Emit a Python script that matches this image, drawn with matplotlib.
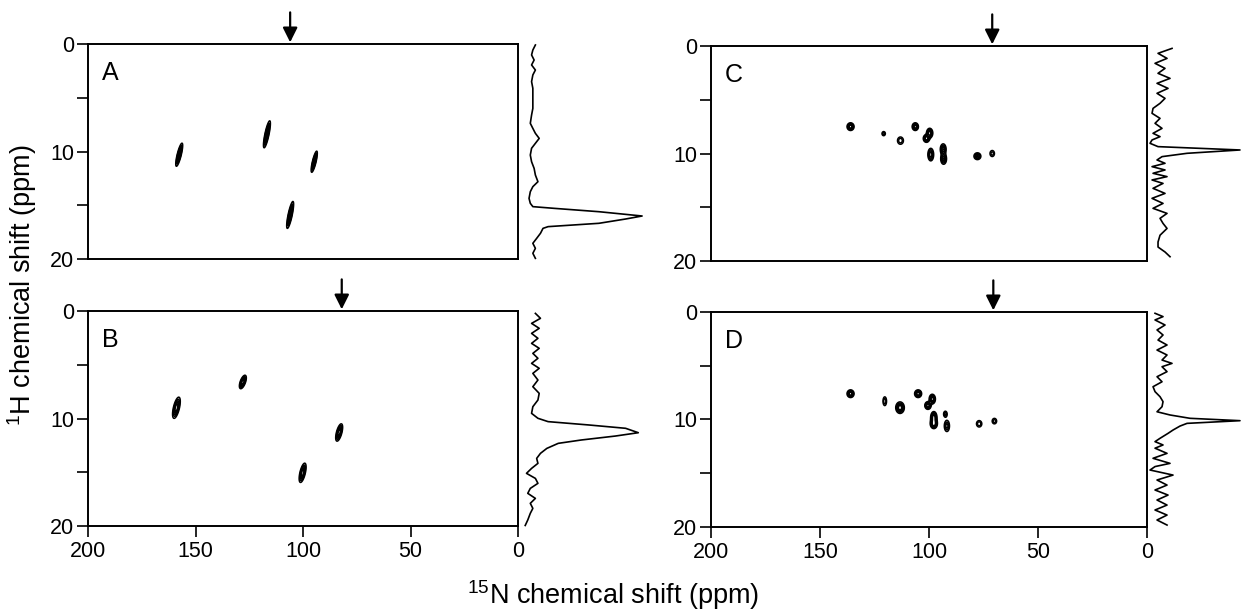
import matplotlib
matplotlib.use('Agg')
import matplotlib.pyplot as plt
import numpy as np

plt.rcParams['font.family']=['Liberation Sans','DejaVu Sans']
plt.rcParams['mathtext.fontset']='custom'
plt.rcParams['mathtext.rm']='Liberation Sans'
plt.rcParams['mathtext.default']='regular'

# Peak lists: 15N shift, 1H shift, amplitude, width N, width H, tilt (correlation)
A_n=[157.6,116.8,94.8,106.0]
A_h=[10.3,8.4,10.95,15.9]
A_amp=[1,1,1,1]
A_sn=[0.9,0.9,0.8,0.9]
A_sh=[0.6,0.7,0.55,0.7]
A_rho=[0.8,0.8,0.8,0.8]

B_n=[158.9,128.0,83.2,100.2]
B_h=[9.0,6.6,11.3,15.05]
B_amp=[1,1,1,1]
B_sn=[1.0,0.9,0.9,0.9]
B_sh=[0.55,0.35,0.45,0.5]
B_rho=[0.6,0.6,0.6,0.6]

C_n=[136.0,120.8,113.1,106.3,99.7,101.2,99.2,93.5,93.3,77.8,71.0]
C_h=[7.5,8.15,8.8,7.5,8.1,8.6,10.1,9.6,10.5,10.25,10.0]
C_amp=[1,0.45,0.5,1,1,1,0.8,0.8,0.8,0.7,0.45]
C_sn=[0.9,0.6,1.0,0.8,0.8,0.8,0.8,0.8,0.8,1.0,0.8]
C_sh=[0.2,0.15,0.25,0.2,0.25,0.2,0.35,0.3,0.3,0.2,0.22]
C_rho=[0,0,0,0,0,0,0,0,0,0,0]

D_n=[136.0,120.3,113.3,105.0,98.5,100.5,97.8,97.8,92.5,91.8,77.0,70.0]
D_h=[7.6,8.3,8.9,7.6,8.1,8.7,9.8,10.4,9.5,10.6,10.4,10.15]
D_amp=[1,0.5,1,1,1,1,1,1,0.5,0.6,0.5,0.45]
D_sn=[0.9,0.6,1.1,0.9,0.8,0.8,0.8,0.9,0.6,0.8,0.9,0.8]
D_sh=[0.2,0.3,0.3,0.2,0.25,0.2,0.3,0.25,0.2,0.35,0.22,0.2]
D_rho=[0,0,0,0,0,0,0,0,0,0,0,0]

# 1D slices at the arrow position (1H ppm, intensity)
A_tr_h=[0.09,0.56,1.02,1.49,1.95,2.42,2.88,3.50,4.12,4.74,5.36,5.99,6.61,7.38,7.85,8.31,8.78,9.24,9.70,10.33,
        10.95,11.57,12.19,12.81,13.27,13.74,14.36,14.82,15.13,15.29,15.60,16.00,16.28,16.68,16.99,17.15,17.61,
        18.08,18.54,19.01,19.47,19.94]
A_tr_i=[0.16,0.14,0.13,0.15,0.13,0.16,0.14,0.13,0.14,0.14,0.14,0.14,0.13,0.12,0.14,0.16,0.19,0.16,0.13,0.12,
        0.13,0.15,0.16,0.18,0.14,0.12,0.11,0.12,0.14,0.31,0.66,1.00,0.87,0.66,0.26,0.22,0.20,
        0.17,0.14,0.16,0.14,0.16]
B_tr_h=[0.22,0.68,1.15,1.61,2.08,2.54,3.01,3.47,3.94,4.40,4.87,5.33,5.80,6.42,7.04,7.66,8.28,8.90,9.52,9.98,
        10.29,10.60,10.91,11.32,11.63,12.00,12.31,12.78,13.24,13.71,14.17,14.64,15.10,15.57,16.03,16.50,16.96,
        17.43,17.89,18.36,18.82,19.44,19.95]
B_tr_i=[0.16,0.20,0.13,0.19,0.13,0.18,0.13,0.19,0.14,0.18,0.13,0.19,0.14,0.18,0.14,0.19,0.18,0.14,0.13,0.18,
        0.26,0.58,0.87,0.97,0.79,0.52,0.34,0.25,0.20,0.17,0.18,0.13,0.09,0.16,0.18,0.12,0.10,
        0.16,0.12,0.14,0.12,0.10,0.08]
C_tr_h=[0.22,0.68,1.15,1.61,2.08,2.54,3.01,3.47,3.94,4.40,4.87,5.33,5.80,6.26,6.73,7.19,7.66,8.12,8.43,8.74,
        9.05,9.36,9.67,9.98,10.29,10.60,10.91,11.22,11.53,11.84,12.15,12.46,12.78,13.24,13.71,14.17,14.64,
        15.10,15.57,16.03,16.50,16.97,17.60,18.23,18.70,19.16,19.60]
C_tr_i=[0.32,0.18,0.27,0.15,0.25,0.18,0.30,0.17,0.28,0.17,0.25,0.20,0.13,0.12,0.20,0.15,0.22,0.13,0.20,0.12,
        0.10,0.18,1.00,0.47,0.22,0.17,0.25,0.12,0.25,0.13,0.27,0.12,0.23,0.13,0.25,0.12,0.23,
        0.13,0.27,0.20,0.23,0.27,0.20,0.18,0.18,0.25,0.30]
D_tr_h=[0.12,0.43,0.74,1.21,1.67,2.14,2.61,3.07,3.54,4.00,4.47,4.78,5.09,5.55,6.02,6.49,6.95,7.41,7.88,8.34,
        8.81,9.28,9.58,9.89,10.11,10.36,10.61,10.98,11.29,11.75,12.06,12.37,12.67,13.15,13.61,14.08,14.38,
        14.70,15.17,15.63,16.10,16.56,17.03,17.49,17.96,18.42,18.89,19.35,19.82]
D_tr_i=[0.15,0.23,0.15,0.25,0.17,0.23,0.18,0.27,0.17,0.27,0.22,0.32,0.22,0.27,0.17,0.22,0.13,0.15,0.20,0.23,
        0.22,0.17,0.30,0.50,1.00,0.47,0.40,0.33,0.28,0.20,0.15,0.23,0.15,0.27,0.13,0.30,0.15,
        0.10,0.33,0.17,0.27,0.15,0.28,0.17,0.27,0.15,0.27,0.17,0.27]

arrow_n={'A':106.0,'B':82.0,'C':71.0,'D':70.5}

# grid for the 2D spectra
N=np.linspace(0,200,1201)
H=np.linspace(0,20,801)
NN,HH=np.meshgrid(N,H)

def spectrum(n,h,amp,sn,sh,rho):
    z=np.zeros_like(NN)
    for i in range(len(n)):
        dx=(NN-n[i])/sn[i]
        dy=(HH-h[i])/sh[i]
        r=rho[i]
        q=(dx**2-2*r*dx*dy+dy**2)/(1-r**2)
        z+=amp[i]*np.exp(-0.5*q)
    return z

fig=plt.figure(figsize=(12.42,6.12),dpi=100,facecolor='white')

# main axes positions [left,bottom,width,height]
pos={'A':[0.0709,0.5768,0.3462,0.3513],
     'B':[0.0709,0.1405,0.3462,0.3513],
     'C':[0.5725,0.5735,0.3510,0.3513],
     'D':[0.5725,0.1389,0.3510,0.3513]}
trace_pos={'A':[0.4147,0.5768,0.1023,0.3513],
           'B':[0.4147,0.1405,0.1023,0.3513],
           'C':[0.9179,0.5735,0.0805,0.3513],
           'D':[0.9179,0.1389,0.0805,0.3513]}

peaks={'A':(A_n,A_h,A_amp,A_sn,A_sh,A_rho),
       'B':(B_n,B_h,B_amp,B_sn,B_sh,B_rho),
       'C':(C_n,C_h,C_amp,C_sn,C_sh,C_rho),
       'D':(D_n,D_h,D_amp,D_sn,D_sh,D_rho)}
traces={'A':(A_tr_h,A_tr_i),'B':(B_tr_h,B_tr_i),'C':(C_tr_h,C_tr_i),'D':(D_tr_h,D_tr_i)}

for key in ['A','B','C','D']:
    ax=fig.add_axes(pos[key])
    z=spectrum(*peaks[key])
    ax.contour(NN,HH,z,levels=[0.2,0.35,0.5,0.65,0.8],colors='black',linewidths=1.1)
    ax.set_xlim(200,0)
    ax.set_ylim(20,0)
    for s in ax.spines.values():
        s.set_linewidth(1.4)
    ax.set_yticks([0,5,10,15,20])
    ax.set_yticklabels(['0','','10','','20'])
    ax.tick_params(axis='y',direction='out',length=8,width=1.2,labelsize=15.5,pad=2)
    if key in ['B','D']:
        ax.set_xticks([200,150,100,50,0])
        ax.tick_params(axis='x',direction='out',length=8,width=1.2,labelsize=15.5,pad=3)
    else:
        ax.set_xticks([])
    ax.text(0.032,0.865,key,transform=ax.transAxes,fontsize=18,va='center',ha='left')
    # arrow marking the slice position
    ax.annotate('',xy=(arrow_n[key],0.1),xytext=(arrow_n[key],-3.2),
                arrowprops=dict(arrowstyle='-|>',color='black',lw=1.6,mutation_scale=22),
                annotation_clip=False)

    # 1D slice on the right
    axt=fig.add_axes(trace_pos[key])
    th,ti=traces[key]
    axt.plot(ti,th,color='black',linewidth=1.2,clip_on=False)
    axt.set_xlim(0,1)
    axt.set_ylim(20,0)
    axt.axis('off')

fig.text(0.018,0.5335,'$^{1}$H chemical shift (ppm)',rotation=90,fontsize=19.5,ha='center',va='center')
fig.text(0.494,0.028,'$^{15}$N chemical shift (ppm)',fontsize=19.5,ha='center',va='center')

plt.savefig('out.png',dpi=100,facecolor='white')
